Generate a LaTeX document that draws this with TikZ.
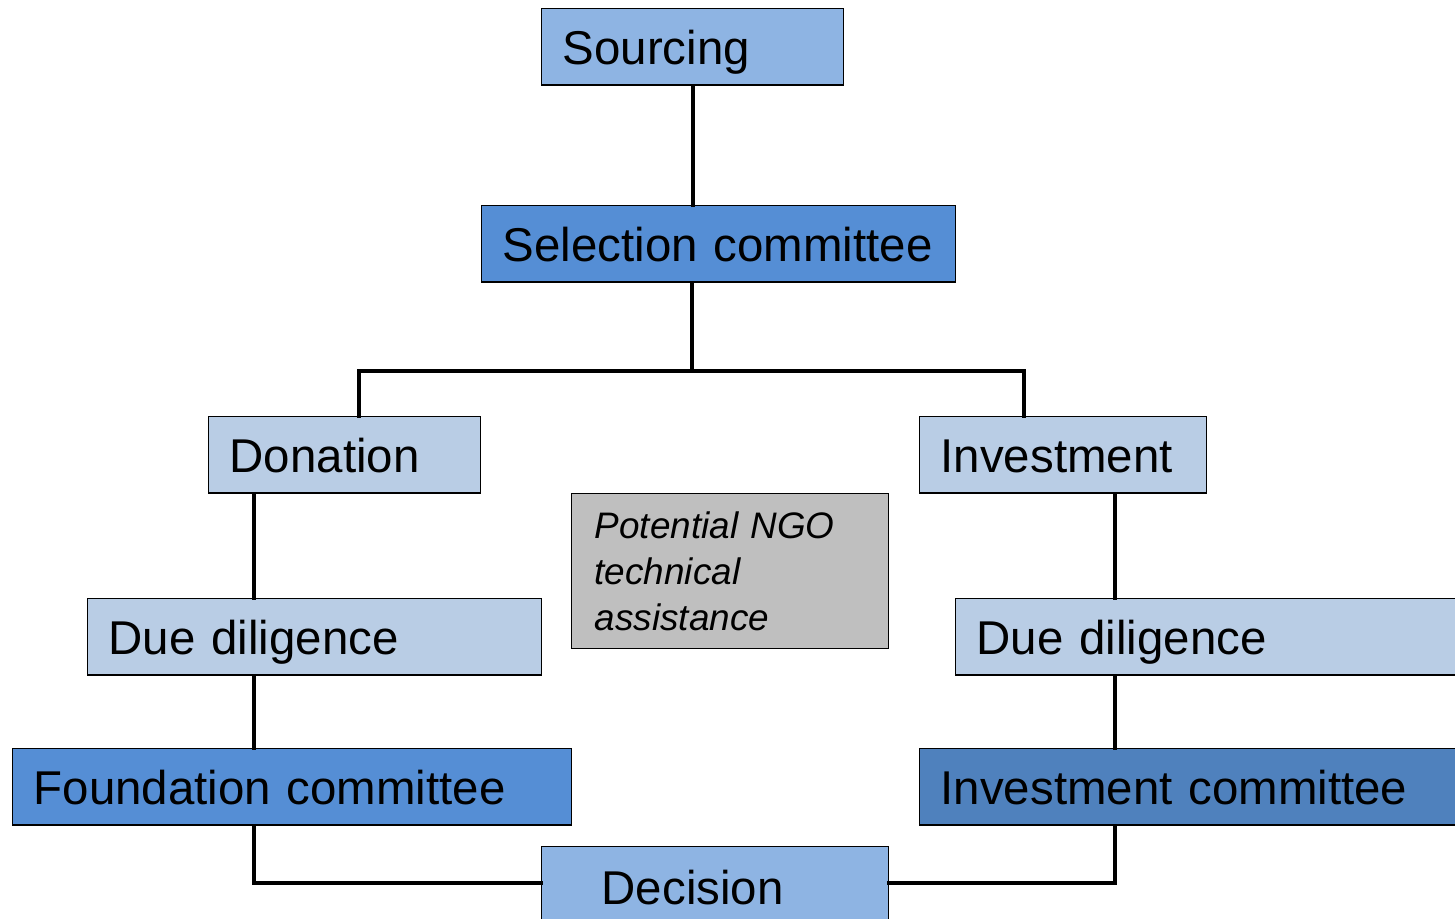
\documentclass[tikz,border=0pt]{standalone}
\usepackage{fontspec}
\setmainfont{Liberation Sans}
\usetikzlibrary{positioning}

\definecolor{pale}{HTML}{B9CDE5}
\definecolor{mid}{HTML}{8EB4E3}
\definecolor{deep}{HTML}{558ED5}
\definecolor{dark}{HTML}{4F81BD}
\definecolor{note}{HTML}{BFBFBF}

\begin{document}
\begin{tikzpicture}[x=0.02cm,y=-0.02cm,
    blk/.style={draw,line width=0.8pt,anchor=north west,inner xsep=0.42cm,inner ysep=0pt,
        minimum height=1.53cm,align=left,text height=26pt,text depth=6pt,
        font=\fontsize{27}{32}\selectfont},
    link/.style={line width=2.4pt,line cap=rect}]
            \useasboundingbox (0,0) rectangle (1455,919);
            \clip (0,0) rectangle (1455,919);

            \node[blk,fill=mid,text width=5.2cm] (src) at (541,8) {Sourcing};
            \node[blk,fill=deep,text width=8.64cm] (sel) at (481,205) {Selection committee};

            \node[blk,fill=pale,text width=4.6cm] (don) at (208,416) {Donation};
            \node[blk,fill=pale,text width=4.9cm] (inv) at (919,416) {Investment};

            \node[draw,line width=0.8pt,fill=note,anchor=north west,minimum width=6.34cm,minimum height=3.1cm,
                inner xsep=0.46cm,text width=5.42cm,align=left,
                font=\fontsize{21}{26}\selectfont\itshape] (ngo) at (571,493) {Potential NGO\\technical\\assistance};

            \node[blk,fill=pale,text width=8.24cm] (ddl) at (87,598) {Due diligence};
            \node[blk,fill=pale,text width=11.2cm] (ddr) at (955,598) {Due diligence};

            \node[blk,fill=deep,text width=10.34cm] (fnd) at (12,748) {Foundation committee};
            \node[blk,fill=dark,text width=11.2cm] (ivc) at (919,748) {Investment committee};

            \node[blk,fill=mid,text width=4.54cm,inner xsep=1.2cm,minimum height=1.62cm] (dec) at (541,846) {Decision};

            % tree lines
            \coordinate (split) at (692,371);
            \coordinate (lt) at (359,371);
            \coordinate (rt) at (1024,371);
            \coordinate (lc) at (254,883);
            \coordinate (rc) at (1115,883);

            \draw[link] (src.south) -- (src.south |- sel.north);
            \draw[link] (split |- sel.south) -- (split);
            \draw[link] (lt |- don.north) -- (lt) -- (rt) -- (rt |- inv.north);

            \draw[link] (lc |- don.south) -- (lc |- ddl.north);
            \draw[link] (lc |- ddl.south) -- (lc |- fnd.north);
            \draw[link] (lc |- fnd.south) -- (lc) -- (lc -| dec.west);

            \draw[link] (rc |- inv.south) -- (rc |- ddr.north);
            \draw[link] (rc |- ddr.south) -- (rc |- ivc.north);
            \draw[link] (rc |- ivc.south) -- (rc) -- (rc -| dec.east);
        \end{tikzpicture}
\end{document}
